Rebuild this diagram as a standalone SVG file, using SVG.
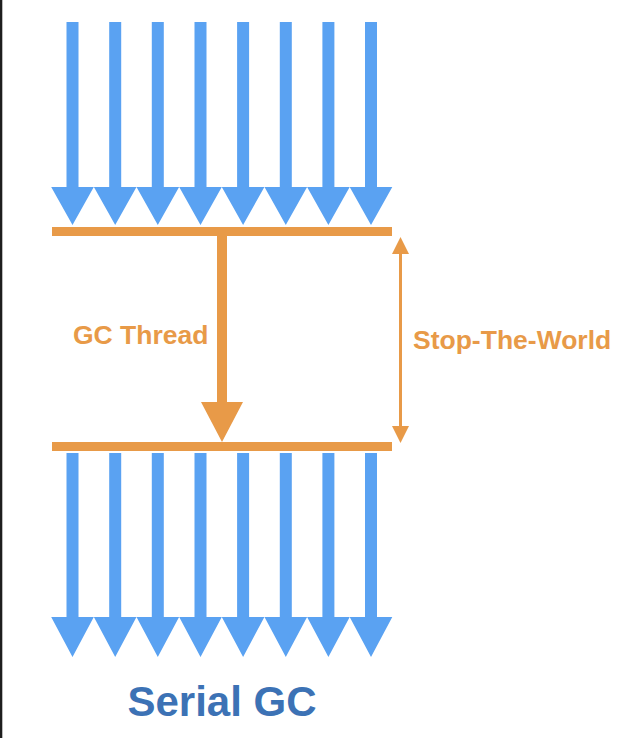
<svg xmlns="http://www.w3.org/2000/svg" xmlns:xlink="http://www.w3.org/1999/xlink" width="634" height="738" viewBox="0 0 634 738">
<style>
.blue{fill:#5aa2f2}
.orange{fill:#e89a48}
.lbl{font-family:"Liberation Sans",Arial,sans-serif;font-weight:bold;fill:#e89a48;font-size:26.5px}
.title{font-family:"Liberation Sans",Arial,sans-serif;font-weight:bold;fill:#3c72b5;font-size:42px}
</style>
<defs>
<path id="topArrow" d="M-6,22 H6 V187 H21.3 L0,225 L-21.3,187 H-6 Z"/>
<path id="botArrow" d="M-6,453 H6 V617 H21.3 L0,657 L-21.3,617 H-6 Z"/>
</defs>
<rect x="0" y="0" width="634" height="738" fill="#ffffff"/>
<rect x="0" y="0" width="2.3" height="738" fill="#1e1e1e"/>
<g id="threads-top" class="blue">
<use xlink:href="#topArrow" x="72.5"/>
<use xlink:href="#topArrow" x="115.2"/>
<use xlink:href="#topArrow" x="157.8"/>
<use xlink:href="#topArrow" x="200.5"/>
<use xlink:href="#topArrow" x="243.1"/>
<use xlink:href="#topArrow" x="285.8"/>
<use xlink:href="#topArrow" x="328.4"/>
<use xlink:href="#topArrow" x="371"/>
</g>
<g id="bar-top"><rect class="orange" x="52" y="227" width="340" height="9"/></g>
<g id="bar-bottom"><rect class="orange" x="52" y="442" width="340" height="9"/></g>
<g id="connectors">
<path id="gc-thread-arrow" class="orange" d="M217,236 H227 V402 H243 L222,442 L201,402 H217 Z"/>
<g id="stw-arrow">
<line x1="400.5" y1="250" x2="400.5" y2="429" stroke="#e89a48" stroke-width="3"/>
<path class="orange" d="M400.5,237 L409,254 L392,254 Z"/>
<path class="orange" d="M400.5,443 L409,426 L392,426 Z"/>
</g>
</g>
<g id="threads-bottom" class="blue">
<use xlink:href="#botArrow" x="72.5"/>
<use xlink:href="#botArrow" x="115.2"/>
<use xlink:href="#botArrow" x="157.8"/>
<use xlink:href="#botArrow" x="200.5"/>
<use xlink:href="#botArrow" x="243.1"/>
<use xlink:href="#botArrow" x="285.8"/>
<use xlink:href="#botArrow" x="328.4"/>
<use xlink:href="#botArrow" x="371"/>
</g>
<g id="label-gc-thread"><text class="lbl" x="73" y="344">GC Thread</text></g>
<g id="label-stw"><text class="lbl" x="413" y="349">Stop-The-World</text></g>
<g id="title"><text class="title" x="222" y="716" text-anchor="middle">Serial GC</text></g>
</svg>
